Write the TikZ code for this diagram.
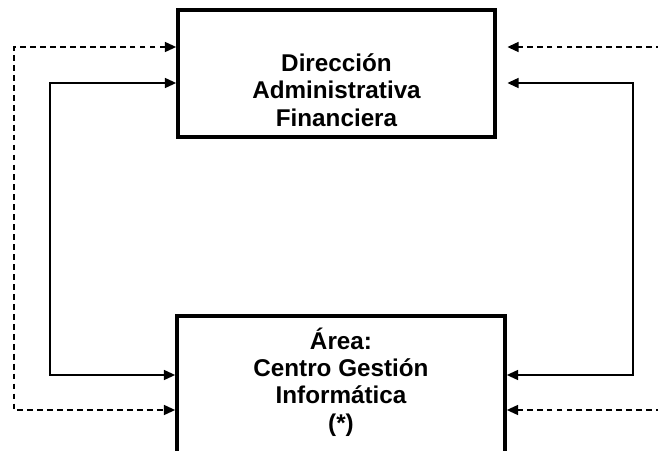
\documentclass[tikz,border=0pt]{standalone}
\usepackage{fontspec}
\setmainfont{Liberation Sans}
\usetikzlibrary{arrows.meta, positioning}
\tikzset{
	%Define standard arrow tip
	>={Triangle[length=9.5pt,width=8.5pt]},
	% Define box style
	caja/.style={
		draw,
		line width=3.2pt,
		inner sep=0pt
	},
	texto/.style={
		align=center,
		font=\bfseries\fontsize{20.7}{23.4}\selectfont
	},
	% Define arrow styles
	pil/.style={
		->,
		line width=1.3pt
	},
	pilrayas/.style={
		pil,
		dash pattern=on 5pt off 3.5pt
	}
}

\begin{document}
\begin{tikzpicture}[x=0.03cm, y=-0.03cm]
\useasboundingbox (0,0) rectangle (658,451);
\clip (0,0) rectangle (658,451);

\node[caja, minimum width=9.51cm, minimum height=3.81cm] at (336.5,73.5) (dir) {};
\node[texto] at (336.5,90) (dirtxt) {Dirección\\Administrativa\\Financiera};

\node[caja, minimum width=9.84cm, minimum height=4.62cm] at (341,393) (cgi) {};
\node[texto] at (341,382) (cgitxt) {Área:\\Centro Gestión\\Informática\\(*)};

\coordinate (esqA) at (14,47);
\coordinate (esqB) at (14,410);
\coordinate (esqC) at (50,83);
\coordinate (esqD) at (50,375);
\coordinate (esqE) at (633,83);
\coordinate (esqF) at (633,375);
\coordinate (bordeA) at (662,47);
\coordinate (bordeB) at (662,410);

% left side

\draw[pilrayas, <->] (esqA -| dir.west) -- (esqA) -- (esqB) -- (esqB -| cgi.west);
\draw[pil, <->] (esqC -| dir.west) -- (esqC) -- (esqD) -- (esqD -| cgi.west);

% right side

\draw[pil, <->, shorten <=9pt] (esqE -| dir.east) -- (esqE) -- (esqF) -- (esqF -| cgi.east);
\draw[pilrayas, shorten >=9pt] (bordeA) -- (bordeA -| dir.east);
\draw[pilrayas] (bordeB) -- (bordeB -| cgi.east);

\end{tikzpicture}
\end{document}
